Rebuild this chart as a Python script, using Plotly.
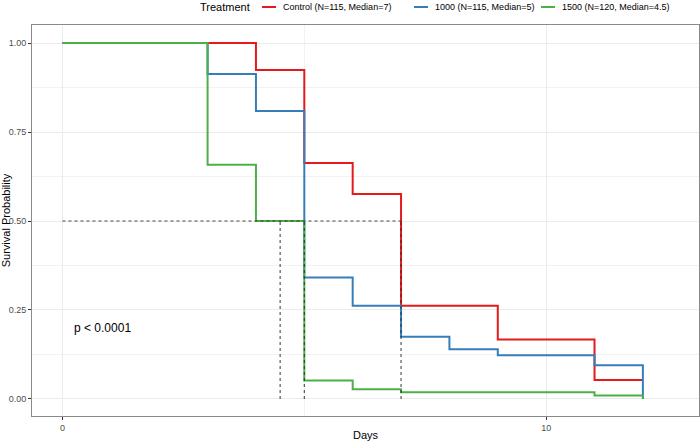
import plotly.graph_objects as go

# Kaplan-Meier step data
control_t = [0, 4, 5, 6, 7, 9, 11, 12]
control_s = [1.0, 0.924, 0.663, 0.576, 0.262, 0.167, 0.053, 0.053]

d1000_t = [0, 3, 4, 5, 6, 7, 8, 9, 11, 12]
d1000_s = [1.0, 0.913, 0.809, 0.341, 0.262, 0.175, 0.140, 0.123, 0.095, 0.0]

d1500_t = [0, 3, 4, 5, 6, 7, 11, 12]
d1500_s = [1.0, 0.658, 0.500, 0.052, 0.027, 0.019, 0.010, 0.0]

series_names = ["Control (N=115, Median=7)", "1000 (N=115, Median=5)", "1500 (N=120, Median=4.5)"]
series_colors = ["#E41A1C", "#377EB8", "#4DAF4A"]
legend_title = "Treatment"

medians = [7, 5, 4.5]
median_level = 0.5
pval_text = "p < 0.0001"

x_ticks = [0, 10]
y_ticks = [0, 0.25, 0.5, 0.75, 1.0]

FONT = "Liberation Sans, Arial"

fig = go.Figure()
for t, s, name, col in zip([control_t, d1000_t, d1500_t],
                           [control_s, d1000_s, d1500_s],
                           series_names, series_colors):
    fig.add_trace(go.Scatter(x=t, y=s, mode="lines", name=name, showlegend=False,
                             line=dict(color=col, width=2, shape="hv")))

# median lines
dash_col = "rgba(40,40,40,0.85)"
fig.add_trace(go.Scatter(x=[0, max(medians)], y=[median_level, median_level], mode="lines",
                         line=dict(color=dash_col, width=1.1, dash="3px,3px"),
                         showlegend=False, hoverinfo="skip"))
for m in medians:
    fig.add_trace(go.Scatter(x=[m, m], y=[0, median_level], mode="lines",
                             line=dict(color=dash_col, width=1.1, dash="3px,3px"),
                             showlegend=False, hoverinfo="skip"))

fig.add_annotation(x=0.2, y=0.2, xref="x", yref="y", text=pval_text, showarrow=False,
                   xanchor="left", yanchor="middle",
                   font=dict(family=FONT, size=12, color="black"))

# top legend (ggplot style, drawn in paper coordinates)
W_PLOT, H_PLOT, L, T = 667, 391, 32, 25
def px(xp):
    return (xp - L) / W_PLOT
leg_y = 1 + (T - 7) / H_PLOT
fig.add_annotation(x=px(252), y=leg_y, xref="paper", yref="paper", text=legend_title,
                   showarrow=False, xanchor="right", yanchor="middle",
                   font=dict(family=FONT, size=11, color="black"))
key_x = [262, 414, 541]
for kx, name, col in zip(key_x, series_names, series_colors):
    fig.add_shape(type="line", xref="paper", yref="paper", x0=px(kx), x1=px(kx + 14),
                  y0=leg_y, y1=leg_y, line=dict(color=col, width=2))
    fig.add_annotation(x=px(kx + 19), y=leg_y, xref="paper", yref="paper", text=name,
                       showarrow=False, xanchor="left", yanchor="middle",
                       font=dict(family=FONT, size=9, color="black"))

axis_common = dict(
    showline=True, linecolor="#8a8a8a", linewidth=1, mirror=True,
    ticks="outside", ticklen=3, tickcolor="#333333", tickwidth=1,
    tickfont=dict(family=FONT, size=9, color="#4d4d4d"),
    showgrid=True, gridcolor="#ebebeb", gridwidth=1, zeroline=False,
)

fig.update_xaxes(range=[-0.63, 13.16], tickvals=x_ticks,
                 minor=dict(tickvals=[5], showgrid=True, gridcolor="#f2f2f2", gridwidth=0.6, ticks=""),
                 title=dict(text="Days", font=dict(family=FONT, size=11, color="black"), standoff=5),
                 **axis_common)
fig.update_yaxes(range=[-0.0478, 1.0506], tickvals=y_ticks, tickformat=".2f",
                 minor=dict(tickvals=[0.125, 0.375, 0.625, 0.875], showgrid=True, gridcolor="#f2f2f2", gridwidth=0.6, ticks=""),
                 title=dict(text="Survival Probability", font=dict(family=FONT, size=11, color="black"), standoff=4),
                 **axis_common)

fig.update_layout(
    width=700, height=441,
    margin=dict(l=32, r=1, t=25, b=25, autoexpand=False),
    plot_bgcolor="white", paper_bgcolor="white",
    showlegend=False,
)

fig.write_html("out.html")
